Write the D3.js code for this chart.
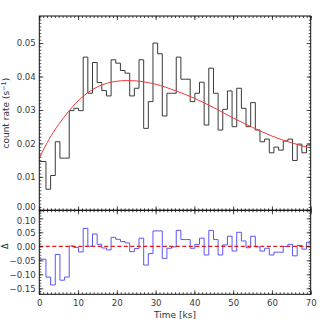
<!DOCTYPE html>
<html>
<head>
<meta charset="utf-8">
<script src="https://cdn.jsdelivr.net/npm/d3@7"></script>
<style>
  body { margin: 0; background: #fff; }
  svg { display: block; }
  text { font-family: "DejaVu Sans", sans-serif; }
</style>
</head>
<body>
<svg id="chart" width="327" height="327"></svg>
<script>
// light curve, one value per time bin (first bin starts at 0 and is wider)
var binWidth = 1.2, firstEdge = 1.72;

var rate = [
  0.0146, 0.0063, 0.0104, 0.0205, 0.0156, 0.0156, 0.0298, 0.0305, 0.0298, 0.0458,
  0.0350, 0.0442, 0.0382, 0.0358, 0.0342, 0.0450, 0.0440, 0.0418, 0.0410, 0.0342,
  0.0365, 0.0450, 0.0245, 0.0325, 0.0500, 0.0468, 0.0282, 0.0350, 0.0350, 0.0458,
  0.0392, 0.0392, 0.0325, 0.0350, 0.0383, 0.0255, 0.0425, 0.0350, 0.0240, 0.0302,
  0.0357, 0.0250, 0.0365, 0.0305, 0.0250, 0.0322, 0.0240, 0.0205, 0.0213, 0.0172,
  0.0189, 0.0180, 0.0207, 0.0213, 0.0149, 0.0198, 0.0172, 0.0195
];

var resid = [
  -0.046, -0.110, -0.138, -0.029, -0.121, -0.110, 0.001, -0.004, -0.020, 0.064,
  0.000, 0.044, 0.007, -0.006, -0.013, 0.032, 0.025, 0.017, 0.012, -0.019,
  -0.008, 0.029, -0.067, -0.026, 0.055, 0.055, -0.043, -0.007, -0.002, 0.057,
  0.024, 0.024, -0.007, 0.007, 0.029, -0.031, 0.057, 0.024, -0.031, 0.005,
  0.036, -0.017, 0.050, 0.019, -0.005, 0.036, -0.002, -0.017, -0.007, -0.031,
  -0.021, -0.021, -0.001, 0.007, -0.034, 0.003, -0.010, 0.014
];

// fitted model (red curve)
var modelTime = [0, 2.5, 5, 7.5, 10, 12.5, 15, 17.5, 20, 22.5, 25, 27.5, 30, 35, 40, 45, 50, 55, 60, 65, 70];
var modelRate = [0.0156, 0.0212, 0.0257, 0.0295, 0.0327, 0.0352, 0.0369, 0.0380, 0.0386, 0.0388, 0.0387,
                 0.0383, 0.0377, 0.0358, 0.0335, 0.0307, 0.0276, 0.0248, 0.0222, 0.0202, 0.0186];

var xTicks = [0, 10, 20, 30, 40, 50, 60, 70];
var rateTicks = [0.00, 0.01, 0.02, 0.03, 0.04, 0.05];
var residTicks = [-0.15, -0.10, -0.05, 0.00, 0.05, 0.10];

// plot geometry
var left = 39.3, right = 310.7,
    top1 = 16, mid = 210.3, bot2 = 294.3;

var svg = d3.select("#chart");

var x = d3.scaleLinear().domain([0, 70]).range([left, right]).clamp(true);
var yTop = d3.scaleLinear().domain([0, 0.0581]).range([mid, top1]);
var yBot = d3.scaleLinear().domain([-0.1714, 0.1286]).range([bot2, mid]);

var fmt2 = d3.format(".2f");

// helper: inward ticks on all four sides of a panel
function frame(yScale, y0, y1, majors, minorStep, showX, cls) {
  var g = svg.append("g").attr("class", cls);
  var yMin = yScale.domain()[0], yMax = yScale.domain()[1];
  var minorY = d3.range(Math.ceil(yMin / minorStep - 1e-6), Math.floor(yMax / minorStep + 1e-6) + 1)
                 .map(function(k) { return k * minorStep; });
  var minorX = d3.range(0, 71, 1);

  g.append("g").attr("class", "yl").attr("transform", "translate(" + left + ",0)")
    .call(d3.axisLeft(yScale).tickValues(majors).tickSize(-4).tickSizeOuter(0)
          .tickPadding(3.5).tickFormat(fmt2));
  g.append("g").attr("transform", "translate(" + left + ",0)")
    .call(d3.axisLeft(yScale).tickValues(minorY).tickSize(-2).tickSizeOuter(0).tickFormat(""));
  g.append("g").attr("transform", "translate(" + right + ",0)")
    .call(d3.axisRight(yScale).tickValues(majors).tickSize(-4).tickSizeOuter(0).tickFormat(""));
  g.append("g").attr("transform", "translate(" + right + ",0)")
    .call(d3.axisRight(yScale).tickValues(minorY).tickSize(-2).tickSizeOuter(0).tickFormat(""));

  g.append("g").attr("transform", "translate(0," + y1 + ")")
    .call(d3.axisTop(x).tickValues(xTicks).tickSize(-4).tickSizeOuter(0).tickFormat(""));
  g.append("g").attr("transform", "translate(0," + y1 + ")")
    .call(d3.axisTop(x).tickValues(minorX).tickSize(-2).tickSizeOuter(0).tickFormat(""));
  g.append("g").attr("transform", "translate(0," + y0 + ")")
    .call(d3.axisBottom(x).tickValues(xTicks).tickSize(-4).tickSizeOuter(0).tickPadding(6)
          .tickFormat(showX ? d3.format("d") : ""));
  g.append("g").attr("transform", "translate(0," + y0 + ")")
    .call(d3.axisBottom(x).tickValues(minorX).tickSize(-2).tickSizeOuter(0).tickFormat(""));

  g.selectAll(".domain").remove();
  g.selectAll(".tick line").attr("stroke", "#222").attr("stroke-width", 0.8);
  g.selectAll(".tick text").attr("font-size", 8.6).attr("fill", "#3a3a3a")
    .attr("font-family", "DejaVu Sans, sans-serif");

  g.append("rect")
    .attr("x", left).attr("y", y1)
    .attr("width", right - left).attr("height", y0 - y1)
    .attr("fill", "none").attr("stroke", "#111").attr("stroke-width", 1);
  return g;
}

// clip paths
var defs = svg.append("defs");
defs.append("clipPath").attr("id", "clipTop").append("rect")
  .attr("x", left).attr("y", top1).attr("width", right - left).attr("height", mid - top1);
defs.append("clipPath").attr("id", "clipBot").append("rect")
  .attr("x", left).attr("y", mid).attr("width", right - left).attr("height", bot2 - mid);

// bin edges
function edge(i) { return i == 0 ? 0 : firstEdge + binWidth * (i - 1); }
function stepPoints(vals) {
  var pts = vals.map(function(v, i) { return [edge(i), v]; });
  pts.push([edge(vals.length), vals[vals.length - 1]]);
  return pts;
}

// top panel: data histogram + model
var lineTop = d3.line().x(function(d) { return x(d[0]); }).y(function(d) { return yTop(d[1]); })
  .curve(d3.curveStepAfter);
svg.append("path")
  .attr("clip-path", "url(#clipTop)")
  .attr("d", lineTop(stepPoints(rate)))
  .attr("fill", "none").attr("stroke", "#3a3a3a").attr("stroke-width", 1);

var modelLine = d3.line().x(function(d, i) { return x(modelTime[i]); })
  .y(function(d) { return yTop(d); }).curve(d3.curveMonotoneX);
svg.append("path")
  .attr("clip-path", "url(#clipTop)")
  .attr("d", modelLine(modelRate))
  .attr("fill", "none").attr("stroke", "#f03a3a").attr("stroke-width", 1);

// bottom panel: residuals + zero line
var lineBot = d3.line().x(function(d) { return x(d[0]); }).y(function(d) { return yBot(d[1]); })
  .curve(d3.curveStepAfter);
svg.append("path")
  .attr("clip-path", "url(#clipBot)")
  .attr("d", lineBot(stepPoints(resid)))
  .attr("fill", "none").attr("stroke", "#5b55f5").attr("stroke-width", 1);

svg.append("line")
  .attr("x1", x(0)).attr("x2", x(70))
  .attr("y1", yBot(0)).attr("y2", yBot(0))
  .attr("stroke", "#e21a1a").attr("stroke-width", 1.3)
  .attr("stroke-dasharray", "4,2.5");

var gTop = frame(yTop, mid, top1, rateTicks, 0.001, false, "top");
var gBot = frame(yBot, bot2, mid, residTicks, 0.01, true, "bot");

// nudge the two labels that meet at the panel join
gTop.selectAll(".yl .tick text").filter(function(d) { return d == 0; }).attr("dy", "-0.05em");
gBot.selectAll(".yl .tick text").filter(function(d) { return d > 0.09; }).attr("dy", "0.55em");

// axis titles
var yl = svg.append("text")
  .attr("transform", "translate(9," + ((top1 + mid) / 2) + ") rotate(-90)")
  .attr("text-anchor", "middle")
  .attr("font-size", 9).attr("fill", "#333");
yl.append("tspan").text("count rate (s");
yl.append("tspan").attr("dy", -3.5).attr("font-size", 6.5).text("\u22121");
yl.append("tspan").attr("dy", 3.5).text(")");

svg.append("text")
  .attr("transform", "translate(8," + yBot(0) + ") rotate(-90)")
  .attr("text-anchor", "middle")
  .attr("font-size", 8).attr("fill", "#333")
  .text("\u0394");

svg.append("text")
  .attr("x", (left + right) / 2).attr("y", 317.5)
  .attr("text-anchor", "middle")
  .attr("font-size", 9).attr("fill", "#333")
  .text("Time [ks]");
</script>
</body>
</html>
